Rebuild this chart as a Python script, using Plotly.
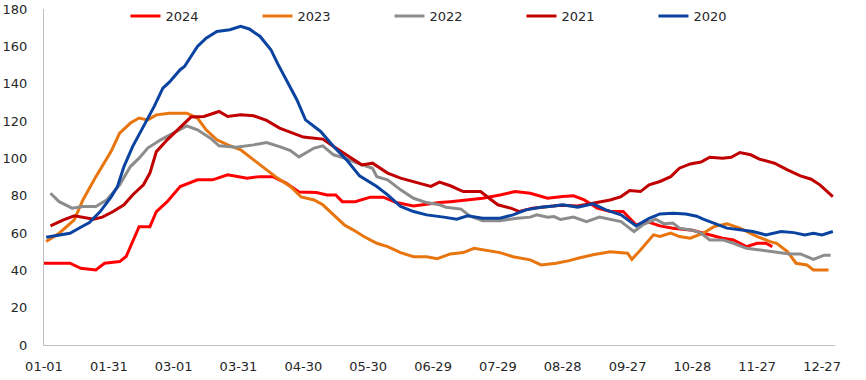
import plotly.graph_objects as go

tick_days = [0, 30, 60, 90, 120, 150, 180, 210, 240, 270, 300, 330, 360]
tick_labels = ["01-01", "01-31", "03-01", "03-31", "04-30", "05-30", "06-29",
               "07-29", "08-28", "09-27", "10-28", "11-27", "12-27"]

days_2024 = [0, 12, 17, 24, 28, 35, 38, 44, 49, 52, 57, 63, 71, 78, 85, 94, 100, 106, 112,
             118, 126, 131, 135, 138, 144, 151, 157, 163, 171, 177, 183, 188, 196, 203, 211,
             218, 225, 233, 240, 245, 250, 256, 262, 268, 274, 279, 285, 291, 300, 305, 310,
             314, 319, 325, 330, 334, 337]
vals_2024 = [43.8, 43.8, 41.1, 40.2, 43.8, 44.7, 47.4, 63.4, 63.4, 71.5, 76.8, 84.9, 88.5,
             88.5, 91.2, 89.4, 90.2, 90.2, 86.7, 82.0, 81.7, 80.4, 80.4, 76.8, 76.8, 79.2, 79.2,
             76.3, 74.5, 75.6, 76.3, 76.8, 77.7, 78.6, 80.4, 82.2, 81.3, 78.6, 79.5, 79.9, 77.7,
             73.3, 71.5, 71.5, 64.3, 66.1, 63.8, 62.6, 61.5, 59.9, 58.1, 57.2, 56.3, 52.7, 54.5,
             54.5, 52.7]

days_2023 = [1, 7, 14, 18, 24, 31, 35, 40, 44, 48, 52, 58, 66, 71, 75, 80, 85, 91, 97, 103,
             108, 114, 119, 125, 129, 134, 139, 143, 148, 154, 159, 165, 171, 177, 182, 188,
             194, 199, 205, 211, 217, 225, 230, 237, 243, 247, 254, 262, 270, 272, 276, 282,
             285, 290, 294, 299, 305, 310, 316, 322, 330, 336, 339, 344, 348, 353, 356, 363]
vals_2023 = [55.4, 59.9, 67.0, 77.7, 90.2, 103.6, 113.5, 118.9, 121.6, 120.6, 123.3, 124.2,
             124.2, 121.6, 115.3, 109.9, 107.2, 104.6, 99.2, 93.8, 89.4, 84.9, 79.3, 77.7, 75.1,
             69.7, 64.3, 61.7, 58.1, 54.5, 52.7, 49.5, 47.3, 47.3, 46.2, 48.8, 49.5, 51.8, 50.6,
             49.5, 47.3, 45.6, 42.9, 43.8, 45.2, 46.5, 48.3, 50.0, 49.2, 45.9, 50.9, 59.0, 58.1,
             59.9, 58.1, 57.2, 59.9, 63.4, 64.9, 62.6, 58.1, 55.4, 54.5, 50.0, 43.8, 42.9, 40.2,
             40.2]

days_2022 = [3, 7, 13, 18, 24, 29, 35, 40, 44, 48, 54, 60, 66, 71, 77, 81, 89, 97, 103, 109,
             114, 118, 125, 129, 134, 139, 145, 152, 154, 159, 165, 171, 177, 183, 186, 193,
             197, 203, 211, 219, 225, 228, 233, 236, 239, 245, 251, 257, 262, 267, 270, 273,
             277, 283, 287, 291, 294, 300, 304, 308, 314, 319, 325, 331, 339, 345, 350, 356,
             361, 364]
vals_2022 = [81.3, 76.8, 73.3, 74.2, 74.2, 77.7, 85.8, 95.6, 100.1, 105.5, 109.9, 113.5, 117.4,
             115.3, 110.8, 106.7, 106.0, 107.2, 108.5, 106.3, 104.2, 100.8, 105.5, 106.7, 101.9,
             100.1, 97.4, 94.7, 90.2, 88.5, 83.1, 78.6, 76.3, 75.1, 73.8, 72.8, 69.2, 66.6, 66.6,
             67.9, 68.5, 69.7, 68.5, 68.8, 67.2, 68.5, 66.1, 68.5, 67.4, 66.1, 63.4, 60.8, 64.3,
             67.4, 64.9, 65.3, 62.6, 61.5, 59.9, 56.3, 56.3, 54.5, 51.8, 50.9, 50.0, 48.8, 48.8,
             45.9, 48.1, 48.1]

days_2021 = [3, 9, 14, 18, 23, 27, 32, 37, 41, 46, 49, 52, 57, 63, 68, 74, 81, 85, 91, 97,
             103, 109, 115, 120, 123, 129, 134, 140, 147, 152, 159, 165, 173, 179, 183, 188,
             194, 202, 206, 210, 216, 220, 226, 233, 239, 247, 254, 262, 267, 271, 276, 280,
             285, 290, 294, 299, 304, 308, 314, 318, 322, 327, 331, 338, 344, 350, 355, 359, 365]
vals_2021 = [63.8, 67.0, 69.2, 68.5, 67.4, 68.5, 71.5, 75.1, 80.4, 85.8, 92.1, 103.6, 109.9,
             116.6, 122.1, 122.4, 125.1, 122.4, 123.3, 122.8, 120.3, 116.2, 113.5, 111.4, 111.0,
             110.3, 106.3, 101.9, 96.5, 97.4, 92.1, 89.4, 86.7, 85.0, 87.3, 85.3, 82.2, 82.2,
             78.6, 75.1, 73.3, 71.5, 73.3, 74.2, 74.8, 74.5, 76.0, 77.7, 79.5, 82.7, 82.2, 85.8,
             87.6, 90.2, 94.7, 97.0, 98.0, 100.6, 100.1, 100.6, 103.1, 101.9, 99.6, 97.4, 93.8,
             90.6, 88.8, 85.8, 79.5]

days_2020 = [1, 7, 12, 17, 21, 26, 31, 34, 37, 41, 46, 51, 55, 58, 63, 65, 71, 75, 80, 86,
             91, 95, 100, 105, 108, 112, 117, 121, 128, 134, 140, 146, 154, 159, 165, 171, 177,
             185, 191, 196, 203, 211, 217, 223, 230, 236, 240, 247, 254, 260, 267, 274, 280,
             285, 291, 297, 302, 305, 311, 316, 322, 328, 334, 341, 347, 352, 356, 360, 365]
vals_2020 = [57.7, 59.0, 59.9, 63.1, 65.6, 71.5, 79.2, 84.9, 95.6, 106.3, 117.0, 127.8, 137.6,
             140.8, 147.5, 149.2, 159.9, 164.4, 168.0, 168.9, 170.7, 169.3, 165.3, 158.2, 151.0,
             142.1, 131.4, 120.6, 114.4, 106.3, 99.2, 90.6, 84.9, 80.4, 74.2, 71.5, 69.7, 68.5,
             67.4, 69.2, 67.9, 67.9, 69.7, 72.4, 73.8, 74.5, 75.1, 73.8, 75.6, 72.4, 69.7, 63.8,
             67.9, 70.2, 70.6, 70.2, 69.0, 67.4, 64.9, 62.6, 61.7, 60.8, 59.0, 60.8, 60.2, 59.0,
             59.9, 59.0, 60.8]

series = [
    ("2024", days_2024, vals_2024, "#FF0000"),
    ("2023", days_2023, vals_2023, "#E8750E"),
    ("2022", days_2022, vals_2022, "#8C8C8C"),
    ("2021", days_2021, vals_2021, "#C00000"),
    ("2020", days_2020, vals_2020, "#0A43A0"),
]

fig = go.Figure()
for name, d, v, c in series:
    fig.add_trace(go.Scatter(x=d, y=v, name=name, mode="lines",
                             line=dict(color=c, width=3)))

fig.update_layout(
    width=866, height=380,
    margin=dict(l=44, r=31, t=9, b=35, autoexpand=False),
    paper_bgcolor="white", plot_bgcolor="white",
    font=dict(family="DejaVu Sans", size=13, color="#262626"),
    showlegend=True, hovermode=False,
    legend=dict(orientation="h", x=0.103, xanchor="left", y=0.979, yanchor="middle",
                bgcolor="rgba(0,0,0,0)", font=dict(size=13, family="DejaVu Sans"),
                entrywidth=87, entrywidthmode="pixels", itemwidth=30),
)
fig.update_xaxes(range=[0, 366], tickmode="array", tickvals=tick_days, ticktext=tick_labels,
                 showgrid=False, zeroline=False, showline=True, linecolor="#BFBFBF",
                 linewidth=1, ticks="", ticklabelstandoff=9, automargin=False)
fig.update_yaxes(range=[0, 180], tickmode="array", tickvals=list(range(0, 181, 20)),
                 showgrid=False, zeroline=False, showline=True, linecolor="#BFBFBF",
                 linewidth=1, ticks="", ticklabelstandoff=13, automargin=False)

# remove the browser's default 8px body margin so the figure sits at the page origin
fig.write_html("out.html",
               config={"displayModeBar": False, "staticPlot": True},
               post_script="document.body.style.margin='0';document.body.style.overflow='hidden';")
